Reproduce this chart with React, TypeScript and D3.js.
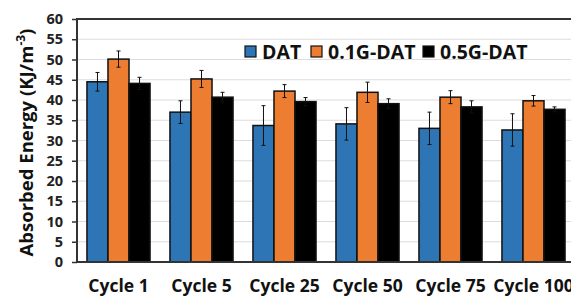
import React, { useEffect, useRef } from "react";
import * as d3 from "d3";

const categories = ["Cycle 1", "Cycle 5", "Cycle 25", "Cycle 50", "Cycle 75", "Cycle 100"];
const seriesNames = ["DAT", "0.1G-DAT", "0.5G-DAT"];
const seriesColors = ["#2e75b6", "#ed7d31", "#000000"];

const datValues = [44.5, 37.0, 33.7, 34.1, 33.0, 32.6];
const datErr = [2.3, 2.8, 4.9, 4.0, 4.0, 4.0];
const g01Values = [50.1, 45.2, 42.2, 41.9, 40.7, 39.8];
const g01Err = [2.0, 2.1, 1.6, 2.5, 1.6, 1.3];
const g05Values = [44.1, 40.7, 39.6, 39.1, 38.3, 37.7];
const g05Err = [1.5, 1.2, 1.0, 1.2, 1.5, 0.6];

const yTicks = [0, 5, 10, 15, 20, 25, 30, 35, 40, 45, 50, 55, 60];

const App = () => {
  const chartRef = useRef<SVGSVGElement>(null);

  useEffect(() => {
    const svg = d3.select(chartRef.current);
    svg.selectAll("*").remove();

    const width = 571;
    const height = 296;
    const margin = { top: 19, right: -4, bottom: 34, left: 77 };
    const font = "'Open Sans', sans-serif";

    svg.attr("width", width).attr("height", height);

    const values = [datValues, g01Values, g05Values];
    const errs = [datErr, g01Err, g05Err];

    const x0 = d3.scaleBand()
      .domain(categories)
      .range([margin.left, width - margin.right])
      .paddingInner(0.24)
      .paddingOuter(0.12);

    const x1 = d3.scaleBand()
      .domain(seriesNames)
      .range([0, x0.bandwidth()]);

    const y = d3.scaleLinear()
      .domain([0, 60])
      .range([height - margin.bottom, margin.top]);

    // gridlines
    svg.append("g")
      .selectAll("line")
      .data(yTicks.slice(1, -1))
      .enter().append("line")
      .attr("x1", margin.left)
      .attr("x2", width - margin.right)
      .attr("y1", (d) => y(d))
      .attr("y2", (d) => y(d))
      .attr("stroke", "#dcdcdc")
      .attr("stroke-width", 1.2);

    // bars + error bars
    seriesNames.forEach((name, si) => {
      const g = svg.append("g");
      g.selectAll("rect")
        .data(categories)
        .enter().append("rect")
        .attr("x", (c) => x0(c)! + x1(name)!)
        .attr("y", (c, i) => y(values[si][i]))
        .attr("width", x1.bandwidth())
        .attr("height", (c, i) => y(0) - y(values[si][i]))
        .attr("fill", seriesColors[si])
        .attr("stroke", "#111")
        .attr("stroke-width", 1.5);

      const eb = g.selectAll(".err")
        .data(categories)
        .enter().append("g");
      const cx = (c) => x0(c)! + x1(name)! + x1.bandwidth() / 2;
      eb.append("line")
        .attr("x1", cx).attr("x2", cx)
        .attr("y1", (c, i) => y(values[si][i] + errs[si][i]))
        .attr("y2", (c, i) => y(values[si][i] - errs[si][i]))
        .attr("stroke", "#111").attr("stroke-width", 1);
      [1, -1].forEach((s) => {
        eb.append("line")
          .attr("x1", (c) => cx(c) - 2).attr("x2", (c) => cx(c) + 2)
          .attr("y1", (c, i) => y(values[si][i] + s * errs[si][i]))
          .attr("y2", (c, i) => y(values[si][i] + s * errs[si][i]))
          .attr("stroke", "#111").attr("stroke-width", 1);
      });
    });

    // frame
    svg.append("rect")
      .attr("x", margin.left)
      .attr("y", margin.top)
      .attr("width", width - margin.right - margin.left)
      .attr("height", y(0) - margin.top)
      .attr("fill", "none")
      .attr("stroke", "#333")
      .attr("stroke-width", 2);

    // y axis
    const yAxis = svg.append("g")
      .attr("transform", `translate(${margin.left},0)`)
      .call(d3.axisLeft(y).tickValues(yTicks).tickSize(5).tickPadding(9));
    yAxis.select(".domain").remove();
    yAxis.selectAll("line").attr("stroke", "#333").attr("stroke-width", 1.5);
    yAxis.selectAll("text")
      .attr("font-family", font)
      .attr("font-weight", 700)
      .attr("font-size", 14.5)
      .attr("fill", "#222");

    // x labels
    svg.append("g")
      .selectAll("text")
      .data(categories)
      .enter().append("text")
      .attr("x", (c) => x0(c)! + x0.bandwidth() / 2)
      .attr("y", 292)
      .attr("text-anchor", "middle")
      .attr("font-family", font)
      .attr("font-weight", 700)
      .attr("font-size", 17.5)
      .attr("fill", "#111")
      .text((c) => c);

    // y title
    const title = svg.append("text")
      .attr("transform", `translate(33,${(margin.top + y(0)) / 2 + 2}) rotate(-90)`)
      .attr("text-anchor", "middle")
      .attr("font-family", font)
      .attr("font-weight", 700)
      .attr("font-size", 18.5)
      .attr("fill", "#111");
    title.append("tspan").text("Absorbed Energy (KJ/m");
    title.append("tspan").attr("baseline-shift", "super").attr("font-size", 12).text("-3");
    title.append("tspan").text(")");

    // legend
    const legendX = [245, 311, 423];
    const legend = svg.append("g");
    seriesNames.forEach((name, i) => {
      legend.append("rect")
        .attr("x", legendX[i])
        .attr("y", 46)
        .attr("width", 11)
        .attr("height", 11)
        .attr("fill", seriesColors[i])
        .attr("stroke", "#111")
        .attr("stroke-width", 1.2);
      legend.append("text")
        .attr("x", legendX[i] + 17)
        .attr("y", 58.5)
        .attr("font-family", font)
        .attr("font-weight", 700)
        .attr("font-size", 19.5)
        .attr("fill", "#111")
        .text(name);
    });
  }, []);

  return (
    <svg ref={chartRef} style={{ position: "absolute", left: 0, top: 0, background: "#fff" }}></svg>
  );
};

export default App;
